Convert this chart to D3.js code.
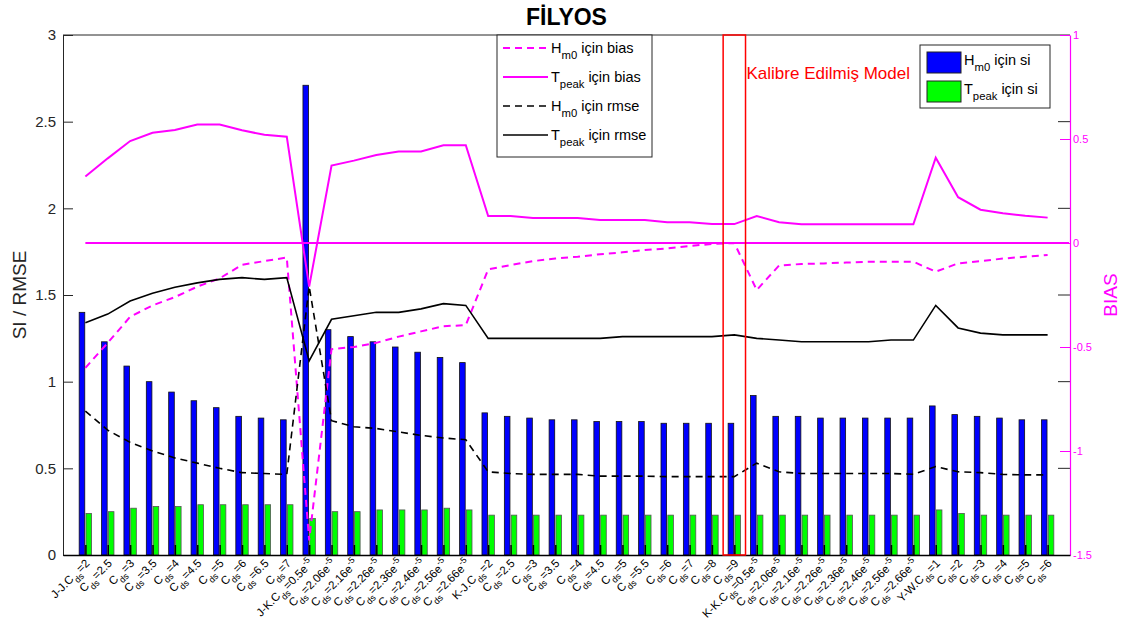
<!DOCTYPE html>
<html>
<head>
<meta charset="utf-8">
<script src="https://cdn.jsdelivr.net/npm/d3@7"></script>
<style>
  body { margin: 0; background: #fff; }
  svg { font-family: "Liberation Sans", Arial, sans-serif; }
</style>
</head>
<body>
<script>
// category labels (TeX-like: _{} subscript, ^{} superscript)
var labels = [
  'J-J.C_{ds}=2', 'C_{ds}=2.5', 'C_{ds}=3', 'C_{ds}=3.5', 'C_{ds}=4', 'C_{ds}=4.5', 'C_{ds}=5', 'C_{ds}=6', 'C_{ds}=6.5', 'C_{ds}=7',
  'J-K.C_{ds}=0.5e^{-5}', 'C_{ds}=2.06e^{-5}', 'C_{ds}=2.16e^{-5}', 'C_{ds}=2.26e^{-5}', 'C_{ds}=2.36e^{-5}', 'C_{ds}=2.46e^{-5}', 'C_{ds}=2.56e^{-5}', 'C_{ds}=2.66e^{-5}',
  'K-J.C_{ds}=2', 'C_{ds}=2.5', 'C_{ds}=3', 'C_{ds}=3.5', 'C_{ds}=4', 'C_{ds}=4.5', 'C_{ds}=5', 'C_{ds}=5.5', 'C_{ds}=6', 'C_{ds}=7', 'C_{ds}=8', 'C_{ds}=9',
  'K-K.C_{ds}=0.5e^{-5}', 'C_{ds}=2.06e^{-5}', 'C_{ds}=2.16e^{-5}', 'C_{ds}=2.26e^{-5}', 'C_{ds}=2.36e^{-5}', 'C_{ds}=2.46e^{-5}', 'C_{ds}=2.56e^{-5}', 'C_{ds}=2.66e^{-5}',
  'Y-W.C_{ds}=1', 'C_{ds}=2', 'C_{ds}=3', 'C_{ds}=4', 'C_{ds}=5', 'C_{ds}=6'
]

// SI values (left axis)
var siHm0 = [1.40, 1.23, 1.09, 1.00, 0.94, 0.89, 0.85, 0.80, 0.79, 0.78,
  2.71, 1.30, 1.26, 1.23, 1.20, 1.17, 1.14, 1.11,
  0.82, 0.80, 0.79, 0.78, 0.78, 0.77, 0.77, 0.77, 0.76, 0.76, 0.76, 0.76,
  0.92, 0.80, 0.80, 0.79, 0.79, 0.79, 0.79, 0.79,
  0.86, 0.81, 0.80, 0.79, 0.78, 0.78]
var siTpeak = [0.24, 0.25, 0.27, 0.28, 0.28, 0.29, 0.29, 0.29, 0.29, 0.29,
  0.21, 0.25, 0.25, 0.26, 0.26, 0.26, 0.27, 0.26,
  0.23, 0.23, 0.23, 0.23, 0.23, 0.23, 0.23, 0.23, 0.23, 0.23, 0.23, 0.23,
  0.23, 0.23, 0.23, 0.23, 0.23, 0.23, 0.23, 0.23,
  0.26, 0.24, 0.23, 0.23, 0.23, 0.23]

// RMSE values (left axis)
var rmseHm0 = [0.83, 0.72, 0.65, 0.60, 0.56, 0.53, 0.50, 0.475, 0.47, 0.465,
  1.55, 0.775, 0.74, 0.73, 0.71, 0.69, 0.675, 0.665,
  0.48, 0.47, 0.465, 0.465, 0.465, 0.455, 0.455, 0.455, 0.452, 0.452, 0.452, 0.452,
  0.53, 0.48, 0.47, 0.47, 0.47, 0.47, 0.47, 0.466,
  0.51, 0.48, 0.475, 0.465, 0.462, 0.462]
var rmseTpeak = [1.34, 1.39, 1.465, 1.51, 1.545, 1.57, 1.59, 1.60, 1.59, 1.60,
  1.12, 1.36, 1.38, 1.40, 1.40, 1.42, 1.45, 1.44,
  1.25, 1.25, 1.25, 1.25, 1.25, 1.25, 1.26, 1.26, 1.26, 1.26, 1.26, 1.27,
  1.25, 1.24, 1.23, 1.23, 1.23, 1.23, 1.24, 1.24,
  1.44, 1.31, 1.28, 1.27, 1.27, 1.27]

// BIAS values (right axis)
var biasHm0 = [-0.60, -0.48, -0.355, -0.30, -0.26, -0.21, -0.17, -0.105, -0.087, -0.07,
  -1.43, -0.51, -0.50, -0.48, -0.45, -0.425, -0.40, -0.395,
  -0.127, -0.106, -0.087, -0.075, -0.066, -0.054, -0.045, -0.034, -0.026, -0.014, -0.005, 0.0,
  -0.226, -0.108, -0.101, -0.098, -0.094, -0.09, -0.09, -0.09,
  -0.138, -0.098, -0.087, -0.075, -0.066, -0.058]
var biasTpeak = [0.32, 0.407, 0.49, 0.53, 0.543, 0.57, 0.57, 0.542, 0.52, 0.511,
  -0.21, 0.372, 0.396, 0.423, 0.44, 0.44, 0.47, 0.47,
  0.13, 0.13, 0.12, 0.12, 0.12, 0.11, 0.11, 0.11, 0.10, 0.10, 0.091, 0.091,
  0.13, 0.10, 0.09, 0.09, 0.09, 0.09, 0.09, 0.09,
  0.41, 0.22, 0.16, 0.143, 0.131, 0.122]

var leftTicks = [0, 0.5, 1, 1.5, 2, 2.5, 3]
var rightTicks = [-1.5, -1, -0.5, 0, 0.5, 1]
var calibrated = 30   // 'C_{ds}=9' of K-J group

var width = 1130, height = 627
var margin = {left: 63, right: 60, top: 35, bottom: 72}
var magenta = '#ff00ff', axisCol = '#262626'

var svg = d3.select('body').append('svg').attr('width', width).attr('height', height)

var x = d3.scaleLinear().domain([0, labels.length + 1]).range([margin.left, width - margin.right])
var y = d3.scaleLinear().domain([0, 3]).range([height - margin.bottom, margin.top])
var yb = d3.scaleLinear().domain([-1.5, 1]).range([height - margin.bottom, margin.top])

var x0 = x.range()[0], x1 = x.range()[1], yTop = y.range()[1], yBot = y.range()[0]

// write TeX-like text into a text element (dy carried to the next piece)
function tex(sel, s, sub) {
  var re = /([_^])\{([^}]*)\}|([^_^]+)/g, m, back = 0
  while ((m = re.exec(s)) !== null) {
    if (m[3]) {
      var ts = sel.append('tspan').text(m[3])
      if (back) ts.attr('dy', back)
      back = 0
    } else {
      var dy = m[1] === '_' ? sub : -sub
      sel.append('tspan').attr('dy', dy + back).attr('font-size', '78%').text(m[2])
      back = -dy
    }
  }
}

// bars
var bw = 5.6
svg.append('g').selectAll('rect').data(siHm0).join('rect')
  .attr('x', (d, i) => x(i + 1) - 0.6 - bw).attr('y', d => y(d))
  .attr('width', bw).attr('height', d => yBot - y(d))
  .attr('fill', '#0000ff').attr('stroke', '#111').attr('stroke-width', 0.8)
svg.append('g').selectAll('rect').data(siTpeak).join('rect')
  .attr('x', (d, i) => x(i + 1) + 0.6).attr('y', d => y(d))
  .attr('width', bw).attr('height', d => yBot - y(d))
  .attr('fill', '#00ff00').attr('stroke', '#555').attr('stroke-width', 0.8)

// zero bias line
svg.append('line').attr('x1', x(1)).attr('x2', x1 - 1).attr('y1', yb(0)).attr('y2', yb(0))
  .attr('stroke', magenta).attr('stroke-width', 2)

// lines
var lineL = d3.line().x((d, i) => x(i + 1)).y(d => y(d))
var lineR = d3.line().x((d, i) => x(i + 1)).y(d => yb(d))
var series = [
  {data: biasHm0, gen: lineR, color: magenta, dash: '7,5', w: 2},
  {data: biasTpeak, gen: lineR, color: magenta, dash: null, w: 2},
  {data: rmseHm0, gen: lineL, color: '#000', dash: '7,5', w: 1.6},
  {data: rmseTpeak, gen: lineL, color: '#000', dash: null, w: 1.6}
]
series.forEach(function(s) {
  svg.append('path').attr('d', s.gen(s.data)).attr('fill', 'none')
    .attr('stroke', s.color).attr('stroke-width', s.w).attr('stroke-dasharray', s.dash)
})

// axes box
svg.append('line').attr('x1', x0).attr('x2', x1).attr('y1', yTop).attr('y2', yTop).attr('stroke', axisCol)
var yAxis = d3.axisLeft(y).tickValues(leftTicks).tickSizeInner(-10).tickSizeOuter(0).tickPadding(7).tickFormat(d => d)
var gy = svg.append('g').attr('transform', `translate(${x0},0)`).call(yAxis)
gy.select('.domain').attr('stroke', axisCol)
gy.selectAll('.tick line').attr('stroke', axisCol)
gy.selectAll('text').attr('font-size', 15).attr('fill', axisCol).attr('font-family', 'Liberation Sans, Arial')

// left ticks repeated on the right edge
svg.append('g').selectAll('line').data(leftTicks.slice(1, -1)).join('line')
  .attr('x1', x1 - 12).attr('x2', x1).attr('y1', d => y(d)).attr('y2', d => y(d)).attr('stroke', axisCol)

var rAxis = d3.axisRight(yb).tickValues(rightTicks).tickSizeInner(-10).tickSizeOuter(0).tickPadding(3).tickFormat(d => d)
var gr = svg.append('g').attr('transform', `translate(${x1},0)`).call(rAxis)
gr.select('.domain').attr('stroke', magenta).attr('stroke-width', 1.2)
gr.selectAll('.tick line').attr('stroke', magenta)
gr.selectAll('text').attr('font-size', 11).attr('fill', magenta).attr('font-family', 'Liberation Sans, Arial')

// bottom axis with inward ticks
var xAxis = d3.axisBottom(x).tickValues(d3.range(1, labels.length + 1)).tickSizeInner(-10).tickSizeOuter(0).tickFormat('')
var gx = svg.append('g').attr('transform', `translate(0,${yBot})`).call(xAxis)
gx.select('.domain').attr('stroke', '#000').attr('stroke-width', 1.5)
gx.selectAll('.tick line').attr('stroke', '#000').attr('stroke-width', 1.5)

// rotated category labels
labels.forEach(function(l, i) {
  var t = svg.append('text')
    .attr('transform', `translate(${x(i + 1) + 5},${yBot + 9}) rotate(-45)`)
    .attr('text-anchor', 'end').attr('font-size', 11.5).attr('fill', '#000')
  tex(t, l, 5)
})

// calibrated model box
svg.append('rect').attr('x', x(calibrated - 0.5)).attr('y', yTop)
  .attr('width', x(calibrated + 0.5) - x(calibrated - 0.5)).attr('height', yBot - yTop)
  .attr('fill', 'none').attr('stroke', '#ff0000').attr('stroke-width', 1.5)
svg.append('text').attr('x', x(calibrated + 0.5) + 1).attr('y', 79)
  .attr('font-size', 17).attr('fill', '#ff0000').text('Kalibre Edilmiş Model')

// title and axis titles
svg.append('text').attr('x', (x0 + x1) / 2).attr('y', 25).attr('text-anchor', 'middle')
  .attr('font-size', 23).attr('font-weight', 'bold').attr('fill', '#000').text('FİLYOS')
svg.append('text').attr('transform', `translate(26,${(yTop + yBot) / 2}) rotate(-90)`)
  .attr('text-anchor', 'middle').attr('font-size', 19).attr('fill', axisCol).text('SI / RMSE')
svg.append('text').attr('transform', `translate(1117,${(yTop + yBot) / 2}) rotate(-90)`)
  .attr('text-anchor', 'middle').attr('font-size', 19).attr('fill', magenta).text('BIAS')

// line legend
var lineNames = ['H_{m0} için bias', 'T_{peak} için bias', 'H_{m0} için rmse', 'T_{peak} için rmse']
var lg = svg.append('g').attr('transform', 'translate(497,35)')
lg.append('rect').attr('width', 155).attr('height', 122).attr('fill', '#fff').attr('stroke', axisCol)
series.forEach(function(s, i) {
  var cy = 13 + i * 29
  lg.append('line').attr('x1', 6).attr('x2', 51).attr('y1', cy).attr('y2', cy)
    .attr('stroke', s.color).attr('stroke-width', s.w).attr('stroke-dasharray', s.dash)
  var t = lg.append('text').attr('x', 54).attr('y', cy + 5).attr('font-size', 14.5).attr('fill', '#000')
  tex(t, lineNames[i], 6)
})

// bar legend
var barNames = ['H_{m0} için si', 'T_{peak} için si']
var barColors = ['#0000ff', '#00ff00']
var bl = svg.append('g').attr('transform', 'translate(920,45)')
bl.append('rect').attr('width', 130).attr('height', 63).attr('fill', '#fff').attr('stroke', axisCol)
barNames.forEach(function(n, i) {
  var cy = 17 + i * 29
  bl.append('rect').attr('x', 7).attr('y', cy - 10).attr('width', 34).attr('height', 21)
    .attr('fill', barColors[i]).attr('stroke', '#222')
  var t = bl.append('text').attr('x', 44).attr('y', cy + 3).attr('font-size', 14.5).attr('fill', '#000')
  tex(t, n, 6)
})
</script>
</body>
</html>
